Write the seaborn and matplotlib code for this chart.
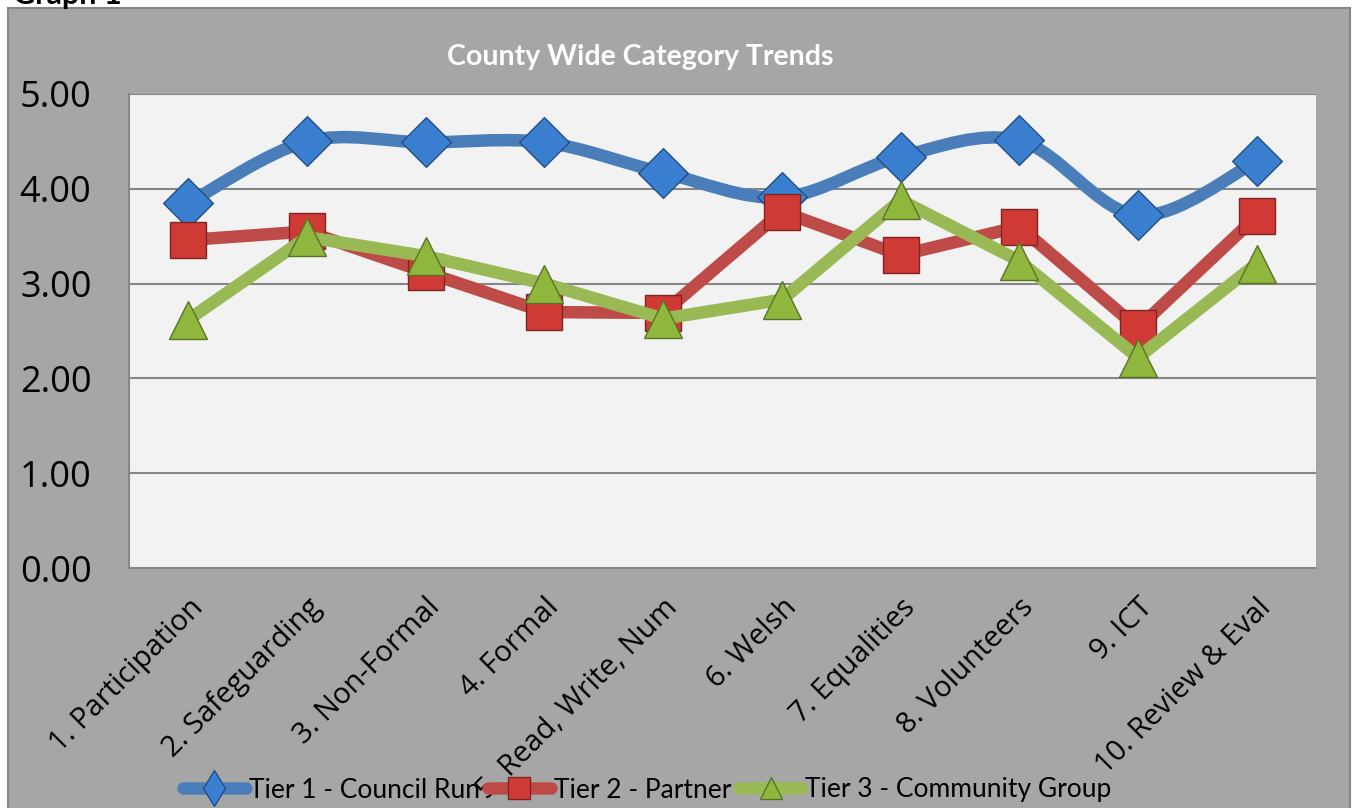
import numpy as np
import pandas as pd
import matplotlib
matplotlib.use("Agg")
import matplotlib.pyplot as plt
from matplotlib.path import Path
from matplotlib.patches import PathPatch, Rectangle
import seaborn as sns

# ==========================================
# DATA
# ==========================================

categories = [
    "1. Participation",
    "2. Safeguarding",
    "3. Non-Formal",
    "4. Formal",
    "5. Read, Write, Num",
    "6. Welsh",
    "7. Equalities",
    "8. Volunteers",
    "9. ICT",
    "10. Review & Eval",
]

tier1 = [3.85, 4.50, 4.49, 4.49, 4.17, 3.91, 4.34, 4.51, 3.72, 4.29]
tier2 = [3.46, 3.55, 3.12, 2.70, 2.69, 3.76, 3.30, 3.60, 2.53, 3.71]
tier3 = [2.62, 3.49, 3.29, 3.00, 2.63, 2.83, 3.88, 3.24, 2.22, 3.21]

series_names = [
    "Tier 1 - Council Run",
    "Tier 2 - Partner",
    "Tier 3 - Community Group",
]

y_ticks = [0, 1, 2, 3, 4, 5]

# ==========================================
# STYLE
# ==========================================

sns.set_style("white")
plt.rcParams["font.family"] = ["Open Sans", "DejaVu Sans"]
plt.rcParams["text.color"] = "black"
plt.rcParams["xtick.color"] = "black"
plt.rcParams["ytick.color"] = "black"

BG = "#a6a6a6"
PLOT_BG = "#f2f2f2"
GRID = "#868686"

blue_line, blue_fill, blue_edge = "#4a7ebb", "#3a7fd0", "#1f4f86"
red_line, red_fill, red_edge = "#be4b48", "#d03a35", "#7e2422"
green_line, green_fill, green_edge = "#98b954", "#8fb73e", "#5a7425"

df = pd.DataFrame({
    "x": np.arange(len(categories)),
    "tier1": tier1,
    "tier2": tier2,
    "tier3": tier3,
})

# ==========================================
# FIGURE
# ==========================================

fig = plt.figure(figsize=(13.57, 8.08), dpi=100, facecolor="white")
fig.patches.append(Rectangle(
    (8 / 1357, -0.01), 1342 / 1357, 1 - 8 / 808 + 0.01,
    transform=fig.transFigure, facecolor=BG, edgecolor=GRID,
    linewidth=1.5, zorder=-10
))

fig.text(13 / 1357, 1 - 4 / 808, "Graph 1", fontsize=22, fontweight="bold",
         color="black", va="baseline", ha="left", family="Lato")

ax = fig.add_axes([129 / 1357, 1 - 568 / 808, 1187 / 1357, 474 / 808])
ax.set_facecolor(PLOT_BG)


def smooth_path(xs, ys):
    # Excel style smoothed line (Catmull-Rom as bezier)
    pts = list(zip(xs, ys))
    verts = [pts[0]]
    codes = [Path.MOVETO]
    for i in range(len(pts) - 1):
        p0 = pts[i - 1] if i > 0 else pts[i]
        p1 = pts[i]
        p2 = pts[i + 1]
        p3 = pts[i + 2] if i + 2 < len(pts) else p2
        c1 = (p1[0] + (p2[0] - p0[0]) / 6, p1[1] + (p2[1] - p0[1]) / 6)
        c2 = (p2[0] - (p3[0] - p1[0]) / 6, p2[1] - (p3[1] - p1[1]) / 6)
        verts += [c1, c2, p2]
        codes += [Path.CURVE4] * 3
    return Path(verts, codes)


# Tier 1 - smoothed
ax.add_patch(PathPatch(
    smooth_path(df["x"], df["tier1"]), facecolor="none",
    edgecolor=blue_line, linewidth=9, capstyle="round", zorder=3
))
sns.scatterplot(data=df, x="x", y="tier1", marker="D", s=640,
                color=blue_fill, edgecolor=blue_edge, linewidth=1,
                zorder=4, ax=ax, legend=False)

# Tier 2
sns.lineplot(data=df, x="x", y="tier2", color=red_line, linewidth=9,
             marker="s", markersize=26, markerfacecolor=red_fill,
             markeredgecolor=red_edge, markeredgewidth=1,
             zorder=5, ax=ax, legend=False)

# Tier 3
sns.lineplot(data=df, x="x", y="tier3", color=green_line, linewidth=9,
             marker="^", markersize=28, markerfacecolor=green_fill,
             markeredgecolor=green_edge, markeredgewidth=1,
             zorder=6, ax=ax, legend=False)

# ==========================================
# AXES
# ==========================================

ax.set_xlim(-0.5, len(categories) - 0.5)
ax.set_ylim(0, 5)
ax.set_yticks(y_ticks)
ax.set_yticklabels([f"{v:.2f}" for v in y_ticks], fontsize=26)
ax.tick_params(axis="y", length=0, pad=27)

ax.set_xticks(df["x"])
ax.set_xticklabels(categories, rotation=45, ha="right",
                   rotation_mode="anchor", fontsize=21)
ax.tick_params(axis="x", length=0, pad=18)
ax.set_xticks(np.arange(-0.5, len(categories), 1), minor=True)
ax.tick_params(axis="x", which="minor", length=8, width=1.5, color=GRID)

ax.set_xlabel("")
ax.set_ylabel("")

for v in y_ticks[1:]:
    ax.axhline(v, color=GRID, linewidth=1.5, zorder=1)

for side in ["top", "right"]:
    ax.spines[side].set_visible(False)
for side in ["left", "bottom"]:
    ax.spines[side].set_color(GRID)
    ax.spines[side].set_linewidth(1.5)

fig.text(640 / 1357, 1 - 57 / 808, "County Wide Category Trends",
         fontsize=20.5, fontweight="bold", color="white",
         ha="center", va="center", family="Lato")

# ==========================================
# LEGEND
# ==========================================

handles = [
    plt.Line2D([], [], color=blue_line, linewidth=9, marker="d",
               markersize=18, markerfacecolor=blue_fill,
               markeredgecolor=blue_edge, solid_capstyle="round"),
    plt.Line2D([], [], color=red_line, linewidth=9, marker="s",
               markersize=16, markerfacecolor=red_fill,
               markeredgecolor=red_edge, solid_capstyle="round"),
    plt.Line2D([], [], color=green_line, linewidth=9, marker="^",
               markersize=16, markerfacecolor=green_fill,
               markeredgecolor=green_edge, solid_capstyle="round"),
]
fig.legend(handles, series_names, loc="center",
           bbox_to_anchor=(647 / 1357, 1 - 790 / 808), ncol=3,
           frameon=False, handlelength=2.4, handletextpad=0.1,
           columnspacing=0.3, prop={"family": "Lato", "size": 19})

plt.savefig("out.png", dpi=100, facecolor=fig.get_facecolor())
plt.close()
